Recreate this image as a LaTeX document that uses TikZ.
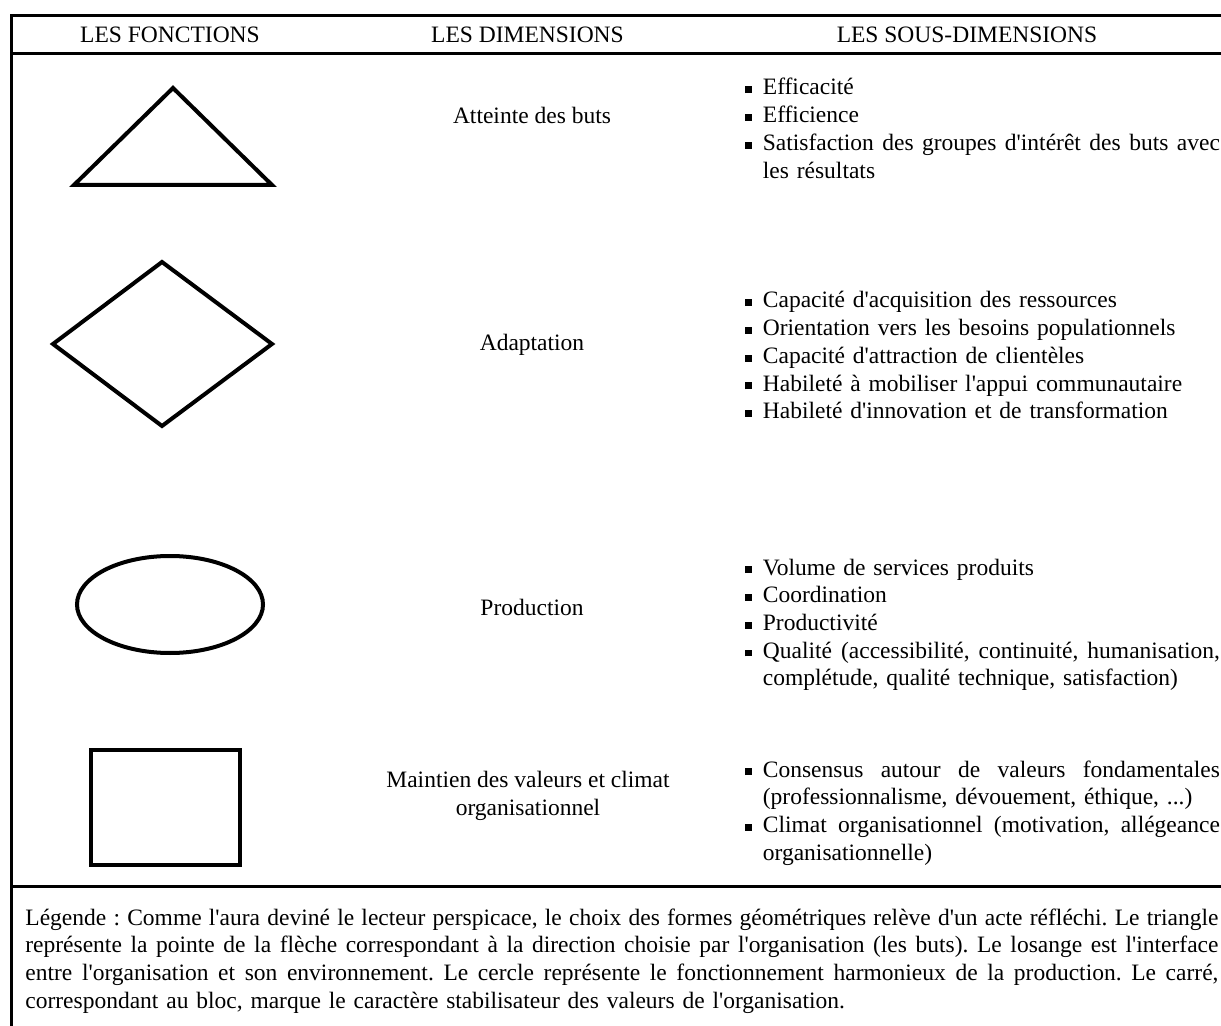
\documentclass[tikz,border=0pt]{standalone}
\usepackage{fontspec}
\setmainfont{Liberation Serif}[Ligatures=TeXOff]
\setlength\parindent{0pt}
\newcommand\bul{\llap{\rule[0.9pt]{3.4pt}{3.4pt}\hspace{5.4pt}}}
\newcommand\jline[2]{\noindent\hbox to #1{\spaceskip=0.25em plus 1em minus 0.1em\relax #2}\par}
\newcommand\pline[1]{\noindent #1\par}
\begin{document}
\frenchspacing
\begin{tikzpicture}[x=0.5pt,y=-0.5pt,
  every node/.style={inner sep=0pt, font=\fontsize{11.75pt}{13.85pt}\selectfont},
  frame/.style={line width=1.5pt},
  shapeline/.style={line width=2pt},
  head/.style={anchor=base},
  dim/.style={anchor=base, align=center},
  sub/.style={anchor=base west, text width=228.5pt, align=left},
  legend/.style={anchor=base west, text width=596.5pt, align=left}]
\useasboundingbox (0,0) rectangle (1221,1026);
\fill[white] (0,0) rectangle (1221,1026);
% frame
\coordinate (tr) at (1221,16);
\coordinate (tl) at (11.5,16);
\coordinate (bl) at (11.5,1026);
\coordinate (hl) at (11.5,53.3);
\coordinate (hr) at (1221,53.3);
\coordinate (ll) at (11.5,886);
\coordinate (lr) at (1221,886);
\draw[frame] (tr) -- (tl) -- (bl);
\draw[frame] (hl) -- (hr);
\draw[frame] (ll) -- (lr);
% headers
\node[head] (h1) at (170,42.5) {LES FONCTIONS};
\node[head] (h2) at (527.5,42.5) {LES DIMENSIONS};
\node[head] (h3) at (967,42.5) {LES SOUS-DIMENSIONS};
% shapes
\draw[shapeline] (74,185) -- (173,88) -- (272,185) -- cycle;
\draw[shapeline] (162,262) -- (272,344) -- (162,426) -- (53,344) -- cycle;
\draw[shapeline] (170,604.5) ellipse [x radius=93, y radius=48.5];
\draw[shapeline] (91,750) rectangle (240,865);
% dimensions
\node[dim] (d1) at (532,124) {Atteinte des buts};
\node[dim] (d2) at (532,351) {Adaptation};
\node[dim] (d3) at (532,615) {Production};
\node[dim] (d4) at (528,815) {Maintien des valeurs et climat\\organisationnel};
% sub-dimensions
\node[sub] (s1) at (762.5,95) {%
\pline{\bul Efficacité}%
\pline{\bul Efficience}%
\jline{228.5pt}{\bul Satisfaction des groupes d'intérêt des buts avec}%
\pline{les résultats}};
\node[sub] (s2) at (762.5,308) {%
\pline{\bul Capacité d'acquisition des ressources}%
\pline{\bul Orientation vers les besoins populationnels}%
\pline{\bul Capacité d'attraction de clientèles}%
\pline{\bul Habileté à mobiliser l'appui communautaire}%
\pline{\bul Habileté d'innovation et de transformation}};
\node[sub] (s3) at (762.5,575) {%
\pline{\bul Volume de services produits}%
\pline{\bul Coordination}%
\pline{\bul Productivité}%
\jline{228.5pt}{\bul Qualité (accessibilité, continuité, humanisation,}%
\pline{complétude, qualité technique, satisfaction)}};
\node[sub] (s4) at (762.5,777) {%
\jline{228.5pt}{\bul Consensus autour de valeurs fondamentales}%
\pline{(professionnalisme, dévouement, éthique, ...)}%
\jline{228.5pt}{\bul Climat organisationnel (motivation, allégeance}%
\pline{organisationnelle)}};
% legend
\node[legend] (lg) at (25,925) {%
\jline{596.5pt}{Légende : Comme l'aura deviné le lecteur perspicace, le choix des formes géométriques relève d'un acte réfléchi. Le triangle}%
\jline{596.5pt}{représente la pointe de la flèche correspondant à la direction choisie par l'organisation (les buts). Le losange est l'interface}%
\jline{596.5pt}{entre l'organisation et son environnement. Le cercle représente le fonctionnement harmonieux de la production. Le carré,}%
\pline{correspondant au bloc, marque le caractère stabilisateur des valeurs de l'organisation.}};
\end{tikzpicture}
\end{document}
